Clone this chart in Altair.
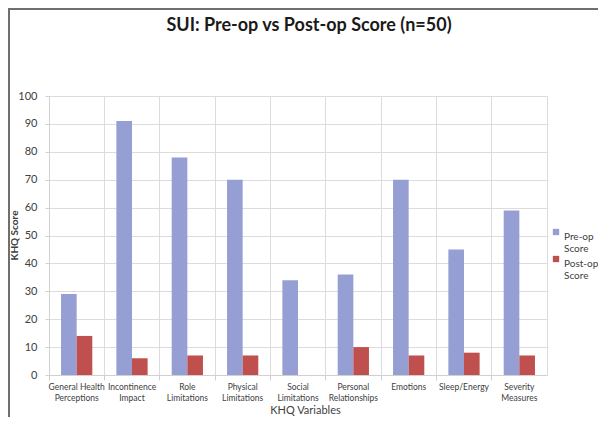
import altair as alt
import pandas as pd

categories = [
    "General Health\nPerceptions",
    "Incontinence\nImpact",
    "Role\nLimitations",
    "Physical\nLimitations",
    "Social\nLimitations",
    "Personal\nRelationships",
    "Emotions",
    "Sleep/Energy",
    "Severity\nMeasures",
]
pre_op = [29, 91, 78, 70, 34, 36, 70, 45, 59]
post_op = [14, 6, 7, 7, 0, 10, 7, 8, 7]
series = ["Pre-op Score", "Post-op Score"]
colors = ["#959FD4", "#C0504D"]
y_ticks = [0, 10, 20, 30, 40, 50, 60, 70, 80, 90, 100]

rows = []
for c, a, b in zip(categories, pre_op, post_op):
    rows.append({"cat": c, "series": series[0], "value": a})
    rows.append({"cat": c, "series": series[1], "value": b})
df = pd.DataFrame(rows)

FONT = "Lato"
W, H = 498, 279

bars = alt.Chart(df).mark_bar().encode(
    x=alt.X(
        "cat:N",
        sort=categories,
        scale=alt.Scale(paddingInner=0, paddingOuter=0),
        axis=alt.Axis(
            title="KHQ Variables",
            labelAngle=0,
            labelExpr="split(datum.label, '\\n')",
            labelBaseline="top",
            labelLineHeight=11.5,
            labelFontSize=8.5,
            labelColor="#404040",
            labelPadding=2,
            labelOverlap=False,
            bandPosition=0,
            tickSize=5,
            tickColor="#d0d0d0",
            domainColor="#d0d0d0",
            grid=True,
            gridColor="#dcdcdc",
            titleFontSize=11,
            titleFontWeight="normal",
            titleColor="#404040",
            titleX=256,
            titleY=35,
            titleBaseline="middle",
            titleAlign="center",
        ),
    ),
    xOffset=alt.XOffset("series:N", sort=series,
                        scale=alt.Scale(paddingInner=0, paddingOuter=0.77)),
    y=alt.Y(
        "value:Q",
        scale=alt.Scale(domain=[0, 100], nice=False),
        axis=alt.Axis(
            title="KHQ Score",
            values=y_ticks,
            labelFontSize=11,
            labelColor="#404040",
            tickSize=4,
            labelPadding=8,
            tickColor="#d0d0d0",
            domainColor="#d0d0d0",
            gridColor="#dcdcdc",
            titleFontSize=10,
            titleFontWeight="bold",
            titleColor="#404040",
            titleX=-35,
            titleY=139,
            titleBaseline="middle",
            titleAlign="center",
        ),
    ),
    color=alt.Color(
        "series:N",
        sort=series,
        scale=alt.Scale(domain=series, range=colors),
        legend=alt.Legend(
            title=None,
            orient="none",
            legendX=502,
            legendY=131,
            symbolType="square",
            symbolSize=40,
            symbolStrokeWidth=0,
            labelExpr="split(datum.label, ' ')",
            labelFontSize=10,
            labelColor="#404040",
            labelBaseline="top",
            labelOffset=3,
            rowPadding=0,
            symbolOffset=0,
        ),
    ),
)

frame_top = alt.Chart(pd.DataFrame({"v": [0]})).mark_rule(color="#6f6f6f", strokeWidth=2).encode(
    x=alt.value(-41), x2=alt.value(560), y=alt.value(-87)
)
frame_left = alt.Chart(pd.DataFrame({"v": [0]})).mark_rule(color="#6f6f6f", strokeWidth=2).encode(
    x=alt.value(-40), y=alt.value(-88), y2=alt.value(330)
)

chart = alt.layer(bars, frame_top, frame_left).properties(
    width=W,
    height=H,
    autosize=alt.AutoSizeParams(type="none"),
    padding={"left": 41, "top": 88, "right": 51, "bottom": 42},
    title=alt.TitleParams(
        "SUI: Pre-op vs Post-op Score (n=50)",
        fontSize=18,
        fontWeight="bold",
        font=FONT,
        color="#1a1a1a",
        anchor="middle",
        offset=-28,
        dx=11,
    ),
).configure(font=FONT).configure_view(stroke="#dcdcdc")

chart.save("out.html", embed_options={"renderer": "svg", "actions": False})
